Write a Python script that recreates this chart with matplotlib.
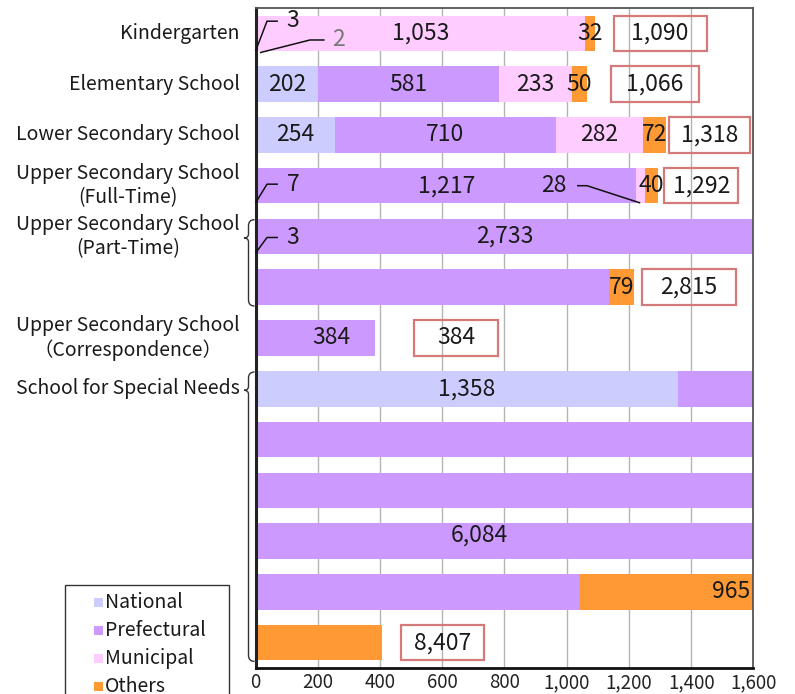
import matplotlib
matplotlib.use('Agg')
import math
import matplotlib.pyplot as plt
from matplotlib.patches import Rectangle, PathPatch
from matplotlib.path import Path
import matplotlib.transforms as mtransforms

plt.rcParams['font.family'] = ['Noto Sans CJK JP', 'DejaVu Sans']

# ---------------- data ----------------
categories = ["Kindergarten",
              "Elementary School",
              "Lower Secondary School",
              "Upper Secondary School\n(Full-Time)",
              "Upper Secondary School\n(Part-Time)",
              "Upper Secondary School\n（Correspondence）",
              "School for Special Needs"]
series_names = ["National", "Prefectural", "Municipal", "Others"]
national    = [3, 202, 254, 7, 3, 0, 1358]
prefectural = [2, 581, 710, 1217, 2733, 384, 6084]
municipal   = [1053, 233, 282, 28, 0, 0, 0]
others      = [32, 50, 72, 40, 79, 0, 965]
totals      = [1090, 1066, 1318, 1292, 2815, 384, 8407]
tick_values = [0, 200, 400, 600, 800, 1000, 1200, 1400, 1600]
tick_labels = ["0", "200", "400", "600", "800", "1,000", "1,200", "1,400", "1,600"]

colors = ["#ccccff", "#cc99ff", "#ffccff", "#ff9933"]
series = [national, prefectural, municipal, others]
ROW = 1600          # width of one wrapped row
BAR_H = 0.7
DARK = "#1a1a1a"
BOX_EC = "#d47a7a"
VAL_FS = 16.5
CAT_FS = 14

# ---------------- layout ----------------
W, H = 795, 694
fig = plt.figure(figsize=(W / 100, H / 100), dpi=100)
ax_l, ax_r, ax_t, ax_b = 255.5, 753.5, 8, 668
ax = fig.add_axes([ax_l / W, 1 - ax_b / H, (ax_r - ax_l) / W, (ax_b - ax_t) / H])

n_rows = [math.ceil(t / ROW) for t in totals]
first_row = [sum(n_rows[:i]) for i in range(len(totals))]
total_rows = sum(n_rows)

ax.set_xlim(0, ROW)
ax.set_ylim(total_rows - 0.5, -0.5)

# grid
ax.set_xticks(tick_values)
ax.set_xticklabels(tick_labels, fontsize=13.5, color="#222222")
ax.tick_params(axis='x', length=0, pad=3)
ax.set_yticks([])
ax.xaxis.grid(True, color="#b4b4b4", linewidth=1.0, zorder=0)
ax.set_axisbelow(True)
for side, lw, col in [("left", 2.2, "#222222"), ("bottom", 2.0, "#111111"),
                      ("top", 1.3, "#555555"), ("right", 1.3, "#555555")]:
    ax.spines[side].set_linewidth(lw)
    ax.spines[side].set_color(col)

# ---------------- bars (wrapped every ROW units) ----------------
pieces = {}
for i in range(len(categories)):
    pos = 0
    for j, vals in enumerate(series):
        v = vals[i]
        s, e = pos, pos + v
        plist = []
        while s < e:
            r = int(s // ROW)
            seg_end = min(e, (r + 1) * ROW)
            left = s - r * ROW
            ax.barh(first_row[i] + r, seg_end - s, left=left, height=BAR_H,
                    color=colors[j], edgecolor='none', zorder=2)
            plist.append((r, left, seg_end - s))
            s = seg_end
        pieces[(i, j)] = plist
        pos = e

# ---------------- value labels ----------------
leader_keys = {(0, 0), (0, 1), (3, 0), (3, 2), (4, 0)}
overrides = {  # (cat, series): (row offset, x, ha, dy)
    (6, 1): (3, 720, 'center', -0.12),
    (6, 3): (4, 1590, 'right', 0.0),
    (5, 1): (0, 245, 'center', 0.0),
}
for (i, j), plist in pieces.items():
    v = series[j][i]
    if v <= 0 or (i, j) in leader_keys:
        continue
    if (i, j) in overrides:
        r, x, ha, dy = overrides[(i, j)]
    else:
        r, left, width = max(plist, key=lambda p: p[2])
        x, ha, dy = left + width / 2, 'center', 0.0
    ax.text(x, first_row[i] + r + dy, f"{v:,}", ha=ha, va='center',
            fontsize=VAL_FS, color=DARK, zorder=5)

# leader-line labels: (cat, series, line xs, line ys (row-relative), text x, text y, ha, color)
leaders = [
    (0, 0, [0, 37, 72], [0.35, -0.24, -0.24], 100, -0.26, 'left', DARK),
    (0, 1, [14, 175, 222], [0.38, 0.13, 0.13], 245, 0.13, 'left', "#777777"),
    (3, 0, [0, 37, 72], [0.34, -0.03, -0.03], 100, -0.03, 'left', DARK),
    (4, 0, [0, 37, 72], [0.33, 0.02, 0.02], 100, 0.03, 'left', DARK),
    (3, 2, [1033, 1065, 1236], [0.0, 0.0, 0.34], 957, 0.0, 'center', DARK),
]
for i, j, xs, ys, tx, ty, ha, col in leaders:
    base = first_row[i]
    ax.plot(xs, [base + y for y in ys], color="#111111", lw=1.1, zorder=6,
            clip_on=False, solid_capstyle='butt')
    ax.text(tx, base + ty, f"{series[j][i]:,}", ha=ha, va='center',
            fontsize=VAL_FS, color=col, zorder=6)

# ---------------- total boxes ----------------
box_centers = [1300, 1284, 1460, 1432, 1393, 644, 602]
box_widths = [298, 282, 260, 236, 302, 272, 266]
for i, t in enumerate(totals):
    r = first_row[i] + n_rows[i] - 1
    cx, bw = box_centers[i], box_widths[i]
    ax.add_patch(Rectangle((cx - bw / 2, r - BAR_H / 2), bw, BAR_H, fill=False,
                           edgecolor=BOX_EC, linewidth=1.6, zorder=4))
    ax.text(cx, r, f"{t:,}", ha='center', va='center', fontsize=VAL_FS,
            color=DARK, zorder=5)

# ---------------- category labels ----------------
trans = mtransforms.blended_transform_factory(ax.transAxes, ax.transData)
for i, cat in enumerate(categories):
    ax.text(-15.5 / 498, first_row[i], cat, transform=trans, ha='right',
            va='center', multialignment='center', fontsize=CAT_FS,
            color=DARK, linespacing=1.15)

# braces for wrapped categories
def brace(y_top, y_tip, y_bot):
    xr, xv, xt = -1 / 498, -7 / 498, -11.5 / 498
    d, d2 = 0.12, 0.08
    verts = [(xr, y_top), (xv, y_top), (xv, y_top + d),
             (xv, y_tip - d2), (xv, y_tip), (xt, y_tip),
             (xv, y_tip), (xv, y_tip + d2),
             (xv, y_bot - d), (xv, y_bot), (xr, y_bot)]
    codes = [Path.MOVETO, Path.CURVE3, Path.CURVE3,
             Path.LINETO, Path.CURVE3, Path.CURVE3,
             Path.CURVE3, Path.CURVE3,
             Path.LINETO, Path.CURVE3, Path.CURVE3]
    ax.add_patch(PathPatch(Path(verts, codes), transform=trans, fill=False,
                           edgecolor="#333333", lw=1.0, clip_on=False))

for i in range(len(categories)):
    if n_rows[i] > 1:
        brace(first_row[i] - 0.33, first_row[i] + 0.03,
              first_row[i] + n_rows[i] - 1 + 0.37)

# ---------------- legend (drawn as in the original, running off the bottom) ----------------
lax = fig.add_axes([0, 0, 1, 1], zorder=10)
lax.set_xlim(0, W)
lax.set_ylim(H, 0)
lax.axis('off')
lax.add_patch(Rectangle((65, 585), 164, 140, facecolor='white',
                        edgecolor='#333333', linewidth=1.0))
for k, name in enumerate(series_names):
    yc = 602 + k * 28.3
    lax.add_patch(Rectangle((94, yc - 4.5), 9, 9, facecolor=colors[k],
                            edgecolor='none'))
    lax.text(105, yc, name, ha='left', va='center', fontsize=14, color=DARK)

fig.savefig("out.png", dpi=100)
